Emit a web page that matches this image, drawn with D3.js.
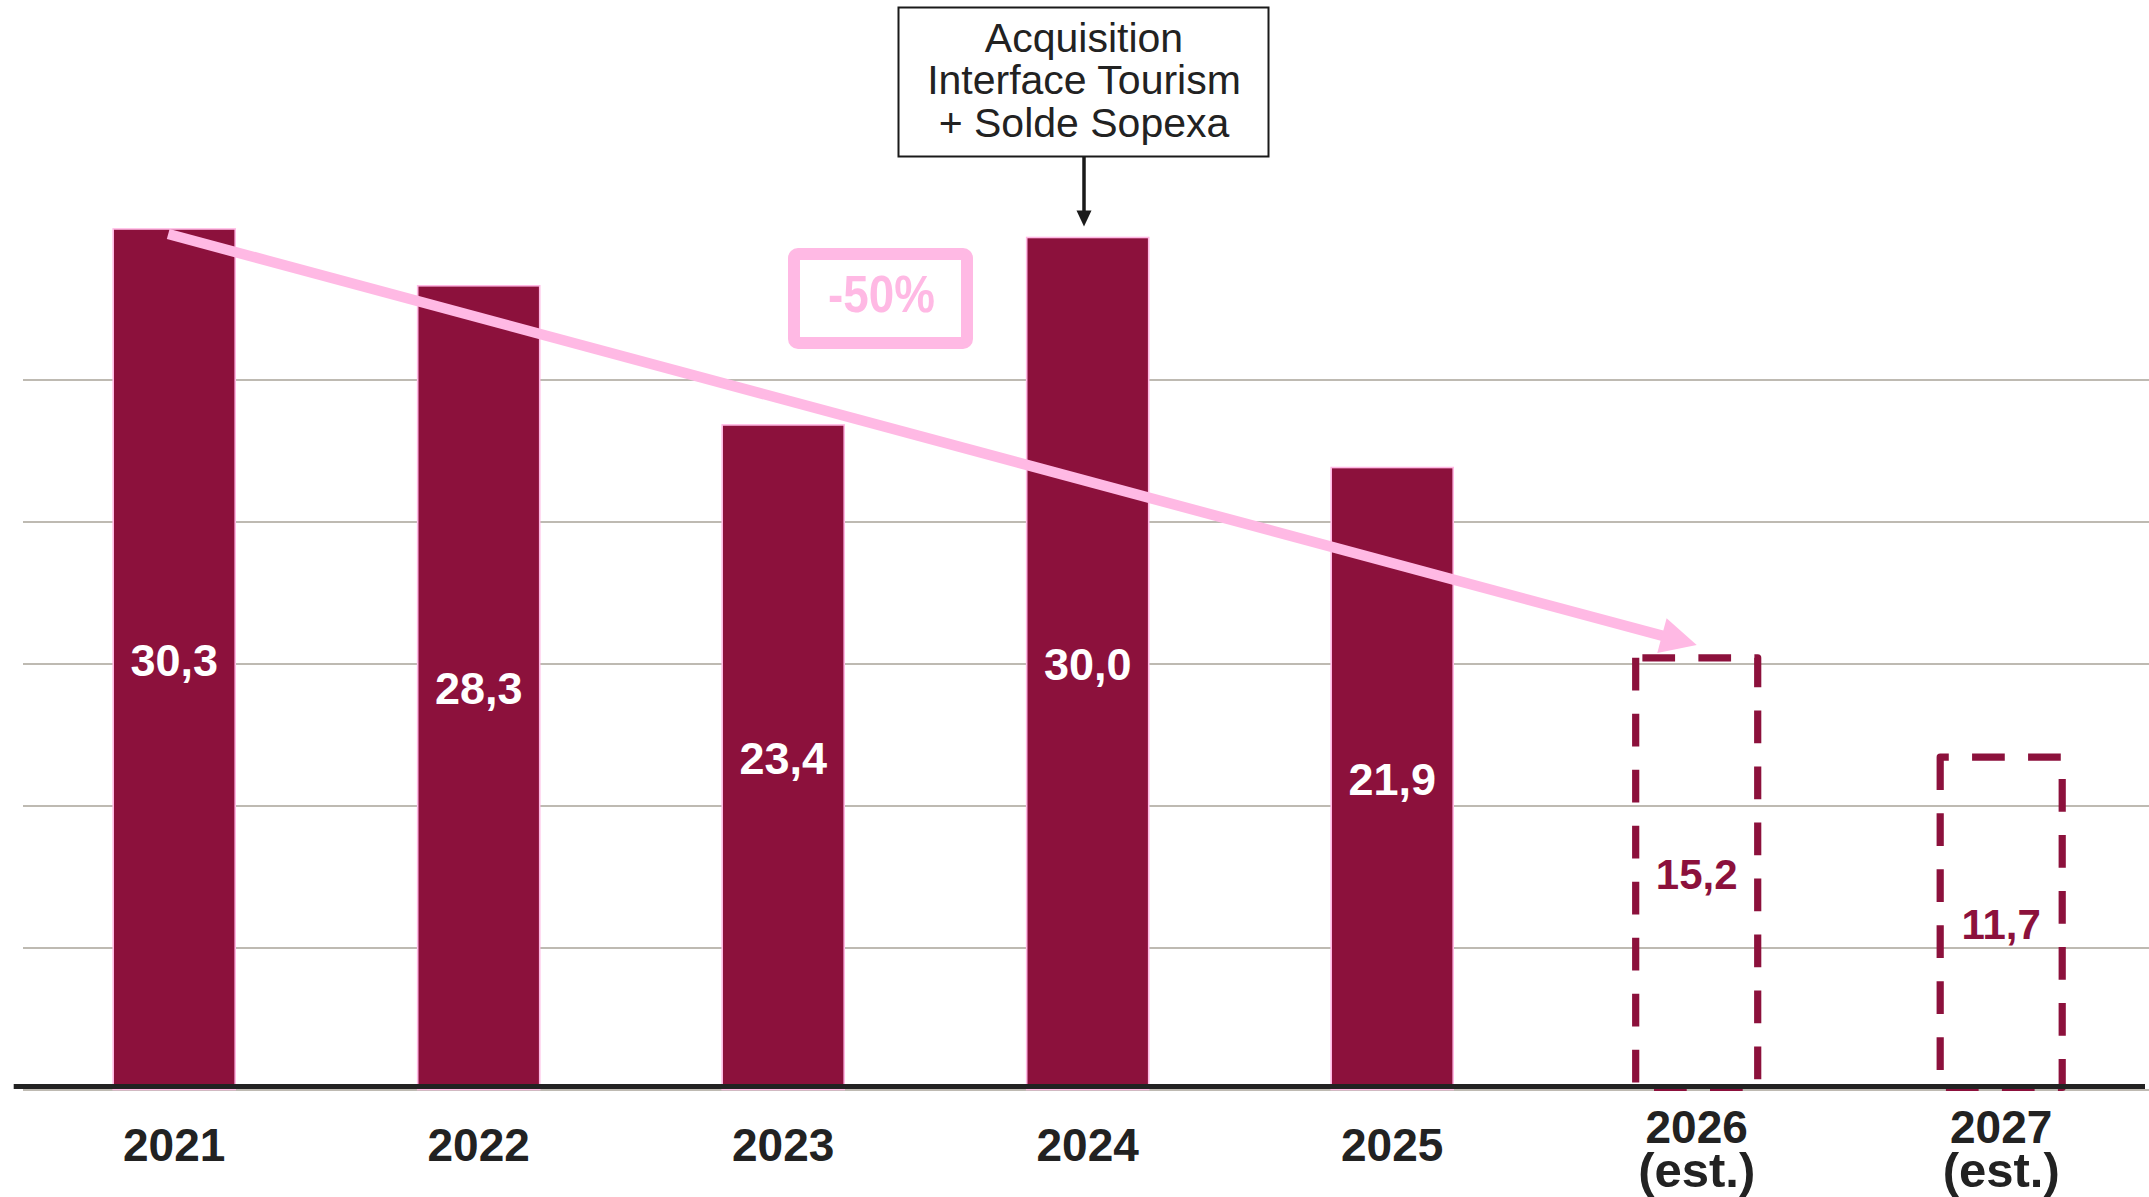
<!DOCTYPE html>
<html>
<head>
<meta charset="utf-8">
<script src="https://cdn.jsdelivr.net/npm/d3@7"></script>
<style>
  html, body { margin: 0; padding: 0; background: #ffffff; }
  svg { display: block; }
  text { font-family: "Liberation Sans", Arial, sans-serif; }
</style>
</head>
<body>
<svg id="chart" width="2149" height="1197"></svg>
<script>
// ---- Data ----
const categories = ['2021', '2022', '2023', '2024', '2025', '2026', '2027'];
const values = [30.3, 28.3, 23.4, 30.0, 21.9, 15.2, 11.7];
const estimated = [false, false, false, false, false, true, true];
const valueLabels = ['30,3', '28,3', '23,4', '30,0', '21,9', '15,2', '11,7'];
const yearLabels = [['2021'], ['2022'], ['2023'], ['2024'], ['2025'], ['2026', '(est.)'], ['2027', '(est.)']];
const gridTicks = [0, 5, 10, 15, 20, 25];
const annotationLines = ['Acquisition', 'Interface Tourism', '+ Solde Sopexa'];
const annotationCategory = '2024';
const trendFrom = '2021';
const trendTo = '2026';
const trendLabel = '-50%';

// ---- Styles ----
const W = 2149, H = 1197;
const barColor = '#8C113C';
const pink = '#FFB9E4';
const gridColor = '#BEBAB2';
const axisColor = '#222222';

const data = categories.map((c, i) => ({
  cat: c, value: values[i], est: estimated[i], label: valueLabels[i], year: yearLabels[i]
}));

const svg = d3.select('#chart');

const x = d3.scaleBand()
  .domain(categories)
  .range([21.95, 2153.45])
  .paddingInner(0.5993)
  .paddingOuter(0.5993 / 2);

const y = d3.scaleLinear().domain([0, 35]).range([1089.5, 95.5]);

const bw = x.bandwidth();
const cx = c => x(c) + bw / 2;

// ---- Gridlines ----
const gridAxis = d3.axisRight(y)
  .tickValues(gridTicks)
  .tickSize(W - 23)
  .tickFormat('');
const gridG = svg.append('g')
  .attr('transform', 'translate(23,0)')
  .call(gridAxis);
gridG.select('.domain').remove();
gridG.selectAll('.tick line')
  .attr('stroke', gridColor)
  .attr('stroke-width', 2.2);

// ---- Solid bars ----
svg.append('g').selectAll('rect')
  .data(data.filter(d => !d.est))
  .join('rect')
  .attr('x', d => x(d.cat))
  .attr('y', d => y(d.value))
  .attr('width', bw)
  .attr('height', d => y(0) - y(d.value))
  .attr('fill', barColor)
  .attr('stroke', pink)
  .attr('stroke-width', 1.6);

// ---- Dashed (estimated) bars ----
svg.append('g').selectAll('path')
  .data(data.filter(d => d.est))
  .join('path')
  .attr('d', d => {
    const p = d3.path();
    const l = x(d.cat), r = x(d.cat) + bw, t = y(d.value), b = y(0) - 2;
    p.moveTo(l, t);
    p.lineTo(l, b);
    p.lineTo(r, b);
    p.lineTo(r, t);
    p.closePath();
    return p.toString();
  })
  .attr('fill', 'none')
  .attr('stroke', barColor)
  .attr('stroke-width', 7.2)
  .attr('stroke-dasharray', '32.7 23.3')
  .attr('stroke-linejoin', 'round');

// ---- Baseline ----
svg.append('line')
  .attr('x1', 13.7).attr('x2', 2145)
  .attr('y1', y(0) - 3).attr('y2', y(0) - 3)
  .attr('stroke', axisColor)
  .attr('stroke-width', 5);

// ---- Value labels ----
svg.append('g').selectAll('text')
  .data(data)
  .join('text')
  .attr('x', d => cx(d.cat))
  .attr('y', d => (y(d.value) + y(0)) / 2 + (d.est ? 15.5 : 16.5))
  .attr('text-anchor', 'middle')
  .attr('font-weight', 'bold')
  .attr('font-size', d => d.est ? 42 : 45)
  .attr('fill', d => d.est ? barColor : '#ffffff')
  .text(d => d.label);

// ---- Year labels ----
const yearG = svg.append('g');
data.forEach(d => {
  const t = yearG.append('text')
    .attr('text-anchor', 'middle')
    .attr('font-weight', 'bold')
    .attr('font-size', 46)
    .attr('fill', '#222222');
  if (d.year.length === 1) {
    t.append('tspan').attr('x', cx(d.cat)).attr('y', 1161).text(d.year[0]);
  } else {
    t.append('tspan').attr('x', cx(d.cat)).attr('y', 1143).text(d.year[0]);
    t.append('tspan').attr('x', cx(d.cat)).attr('y', 1187).attr('font-size', 49).text(d.year[1]);
  }
});

// ---- Trend arrow (pink) ----
const fromIdx = categories.indexOf(trendFrom);
const toIdx = categories.indexOf(trendTo);
const sx = cx(trendFrom) - 6, sy = y(values[fromIdx]) + 5;
const tx = cx(trendTo), ty = y(values[toIdx]) - 12.8;
const len = Math.hypot(tx - sx, ty - sy);
const ux = (tx - sx) / len, uy = (ty - sy) / len;
const headLen = 36, headHalf = 18;
const bx = tx - headLen * ux, by = ty - headLen * uy;
svg.append('line')
  .attr('x1', sx).attr('y1', sy)
  .attr('x2', bx + 2 * ux).attr('y2', by + 2 * uy)
  .attr('stroke', pink)
  .attr('stroke-width', 10.5);
svg.append('polygon')
  .attr('points', [
    [tx, ty],
    [bx - headHalf * uy, by + headHalf * ux],
    [bx + headHalf * uy, by - headHalf * ux]
  ].map(p => p.join(',')).join(' '))
  .attr('fill', pink);

// ---- -50% box ----
svg.append('rect')
  .attr('x', 794).attr('y', 254)
  .attr('width', 173).attr('height', 89)
  .attr('rx', 4).attr('ry', 4)
  .attr('fill', '#ffffff')
  .attr('stroke', pink)
  .attr('stroke-width', 12);
svg.append('text')
  .attr('transform', 'translate(881.5,312) scale(0.88,1)')
  .attr('text-anchor', 'middle')
  .attr('font-weight', 'bold')
  .attr('font-size', 52)
  .attr('fill', pink)
  .text(trendLabel);

// ---- Annotation box ----
const ax = 1084;
svg.append('rect')
  .attr('x', 898.5).attr('y', 7.5)
  .attr('width', 370).attr('height', 149)
  .attr('fill', '#ffffff')
  .attr('stroke', '#1a1a1a')
  .attr('stroke-width', 2);
svg.append('g').selectAll('text')
  .data(annotationLines)
  .join('text')
  .attr('x', ax)
  .attr('y', (d, i) => 51.7 + i * 42.5)
  .attr('text-anchor', 'middle')
  .attr('font-size', 41)
  .attr('fill', '#222222')
  .text(d => d);
const annTop = y(values[categories.indexOf(annotationCategory)]);
svg.append('line')
  .attr('x1', ax).attr('x2', ax)
  .attr('y1', 157).attr('y2', annTop - 24)
  .attr('stroke', '#1a1a1a')
  .attr('stroke-width', 3.5);
svg.append('polygon')
  .attr('points', [[ax - 7.5, annTop - 27], [ax + 7.5, annTop - 27], [ax, annTop - 11]].map(p => p.join(',')).join(' '))
  .attr('fill', '#1a1a1a');
</script>
</body>
</html>
